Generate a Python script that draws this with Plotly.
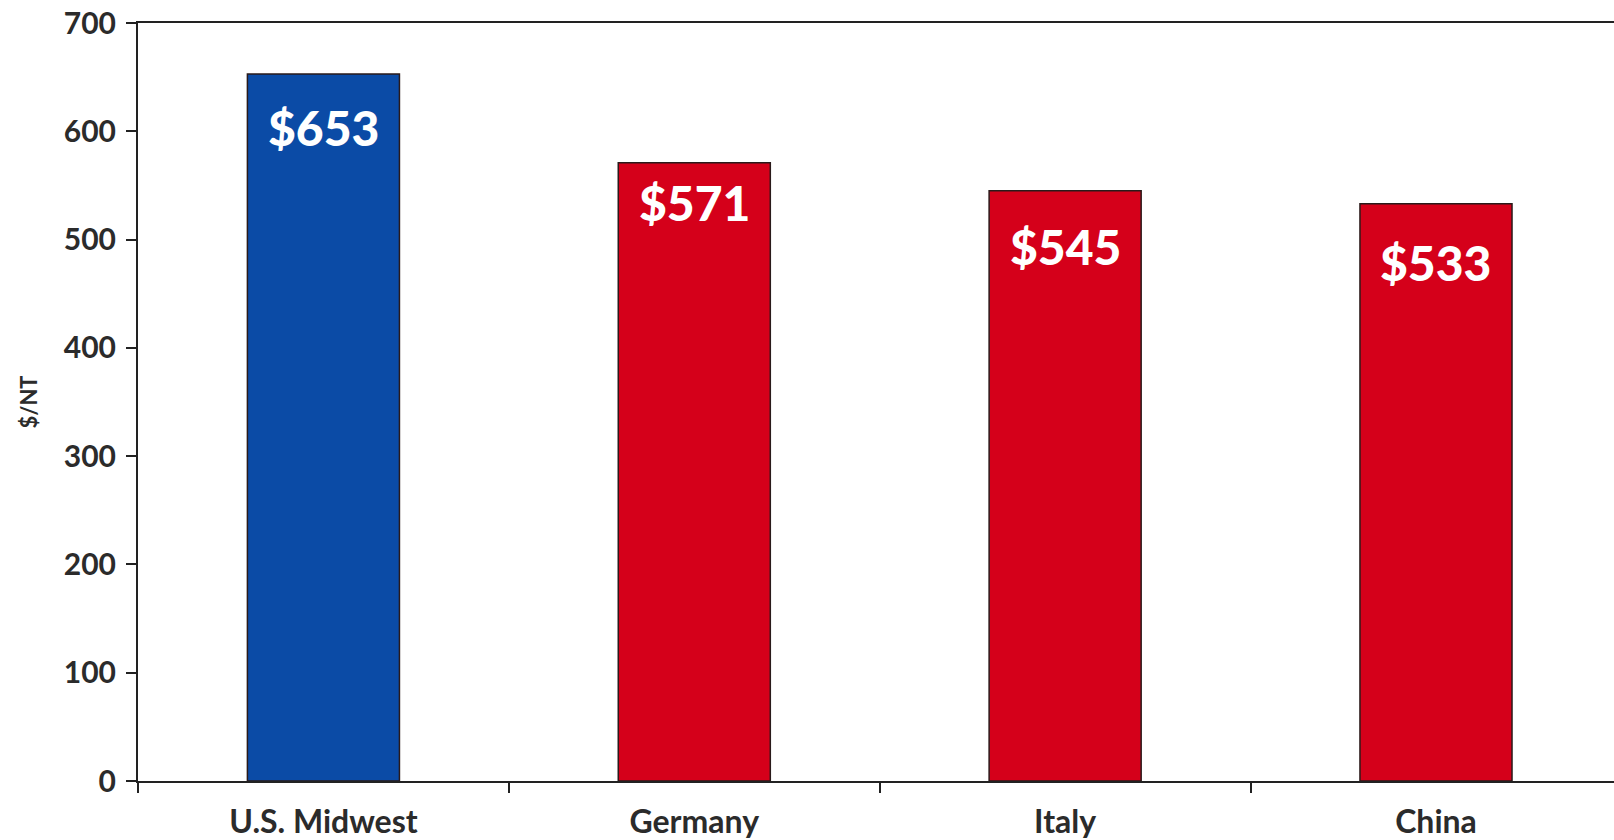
import plotly.graph_objects as go

# Cost per net ton by region
regions = ["U.S. Midwest", "Germany", "Italy", "China"]
cost_per_nt = [653, 571, 545, 533]
value_labels = ["$653", "$571", "$545", "$533"]

bar_colors = ["#0b4ba6", "#d5001a", "#d5001a", "#d5001a"]
label_drop_px = [54, 40, 56, 59]  # distance of each value label below its bar top

FONT = "Lato"
INK = "#2b2b2b"

fig = go.Figure(
    go.Bar(
        x=regions,
        y=cost_per_nt,
        width=0.41,
        marker=dict(color=bar_colors, line=dict(color="#2a1a1a", width=1.5)),
        hoverinfo="x+y",
    )
)

for region, val, txt, drop in zip(regions, cost_per_nt, value_labels, label_drop_px):
    fig.add_annotation(
        x=region, y=val, text=txt, showarrow=False,
        yanchor="middle", yshift=-drop,
        font=dict(family=FONT, size=48, color="white", weight=900),
    )

fig.update_layout(
    width=1614, height=840,
    margin=dict(l=138, r=0, t=23, b=59),
    paper_bgcolor="white", plot_bgcolor="white",
    showlegend=False,
    bargap=0.59,
    font=dict(family=FONT, color=INK),
)

fig.update_xaxes(
    range=[-0.5, 3.48],
    showline=True, linecolor="#222", linewidth=2, mirror=True,
    ticks="outside", tickson="boundaries", ticklen=10, tickcolor="#222", tickwidth=1.5,
    tickfont=dict(family=FONT, size=32, color=INK, weight="bold"),
    ticklabelstandoff=12,
    showgrid=False, zeroline=False,
)

fig.update_yaxes(
    range=[0, 700], dtick=100, tick0=0,
    showline=True, linecolor="#222", linewidth=2,
    ticks="outside", ticklen=10, tickcolor="#222", tickwidth=1.5,
    tickfont=dict(family=FONT, size=30, color=INK, weight="bold"),
    ticklabelstandoff=4,
    showgrid=False, zeroline=False,
    title=dict(text="$/NT", font=dict(family=FONT, size=22, color=INK, weight="bold"), standoff=20),
)

fig.write_html("out.html")
